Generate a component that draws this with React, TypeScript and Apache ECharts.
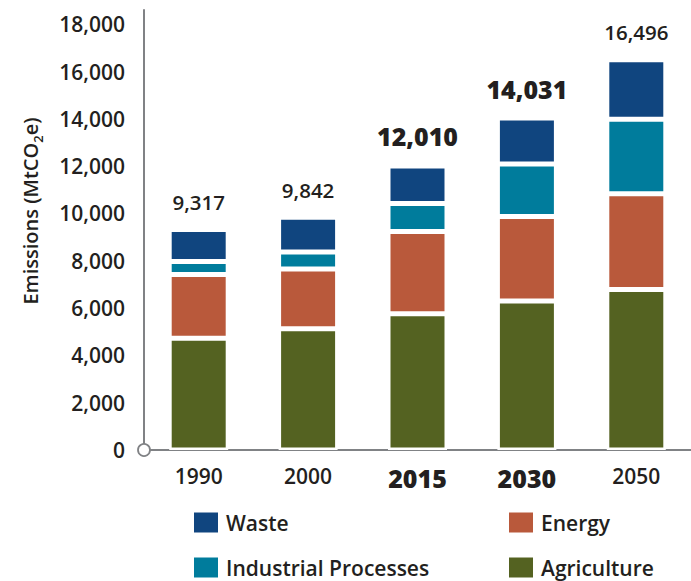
import React, { useEffect, useRef } from "react";
import * as echarts from "echarts";

const categories = ["1990", "2000", "2015", "2030", "2050"];
const highlighted = ["2015", "2030"];
const agriculture = [4720, 5130, 5760, 6300, 6790];
const energy = [2700, 2520, 3480, 3570, 4040];
const industrial = [550, 720, 1180, 2220, 3150];
const waste = [1347, 1472, 1590, 1941, 2516];
const totals = [9317, 9842, 12010, 14031, 16496];

const seriesNames = ["Agriculture", "Energy", "Industrial Processes", "Waste"];
const seriesColors = ["#546221", "#b9593b", "#007c9c", "#10457f"];

const FONT = "'Open Sans', 'Noto Sans', sans-serif";
const TEXT = "#231f20";
const AXIS = "#808285";

const fmt = (v: number) => v.toLocaleString("en-US");

export default function App() {
  const ref = useRef<HTMLDivElement>(null);
  useEffect(() => {
    if (!ref.current) return;
    const chart = echarts.init(ref.current, null, { renderer: "svg" });
    const values = [agriculture, energy, industrial, waste];
    const gridLeft = 144;
    const gridTop = 10;
    const gridBottomY = 450;

    const legendPos = [
      { name: "Waste", left: 194, top: 512 },
      { name: "Energy", left: 509, top: 512 },
      { name: "Industrial Processes", left: 194, top: 557 },
      { name: "Agriculture", left: 509, top: 557 },
    ];

    const option: any = {
      animation: false,
      textStyle: { fontFamily: FONT },
      grid: { left: gridLeft, top: gridTop, width: 556, height: gridBottomY - gridTop },
      xAxis: {
        type: "category",
        data: categories,
        axisLine: { show: true, lineStyle: { color: AXIS, width: 2 } },
        axisTick: { show: false },
        axisLabel: {
          margin: 15,
          formatter: (v: string) => (highlighted.includes(v) ? `{b|${v}}` : `{n|${v}}`),
          rich: {
            n: { fontSize: 21, fontWeight: 600, color: TEXT, fontFamily: FONT },
            b: { fontSize: 25, fontWeight: 800, color: TEXT, fontFamily: FONT },
          },
        },
      },
      yAxis: {
        type: "value",
        min: 0,
        max: 18600,
        interval: 2000,
        axisLine: { show: true, lineStyle: { color: AXIS, width: 2 } },
        axisTick: { show: false },
        splitLine: { show: false },
        axisLabel: {
          showMaxLabel: false,
          margin: 19,
          fontSize: 21,
          fontWeight: 600,
          color: TEXT,
          fontFamily: FONT,
          formatter: (v: number) => fmt(v),
        },
      },
      legend: legendPos.map((l) => ({
        data: [l.name],
        left: l.left,
        top: l.top,
        padding: 0,
        itemWidth: 24,
        itemHeight: 20,
        icon: "rect",
        selectedMode: false,
        itemStyle: { borderWidth: 0 },
        textStyle: {
          fontSize: 21,
          fontWeight: 600,
          color: TEXT,
          fontFamily: FONT,
          padding: [0, 0, 0, 3],
        },
      })),
      series: seriesNames.map((name, si) => ({
        name,
        type: "bar",
        stack: "total",
        barWidth: 59,
        data: values[si],
        itemStyle: { color: seriesColors[si], borderColor: "#ffffff", borderWidth: 2.5 },
        label:
          si === seriesNames.length - 1
            ? {
                show: true,
                position: "top",
                distance: 17,
                formatter: (p: any) => {
                  const t = fmt(totals[p.dataIndex]);
                  return highlighted.includes(categories[p.dataIndex]) ? `{b|${t}}` : `{n|${t}}`;
                },
                rich: {
                  n: { fontSize: 20.5, fontWeight: 600, color: TEXT, fontFamily: FONT },
                  b: { fontSize: 25, fontWeight: 800, color: TEXT, fontFamily: FONT },
                },
              }
            : { show: false },
      })),
      graphic: [
        {
          type: "circle",
          shape: { cx: gridLeft, cy: gridBottomY, r: 6 },
          style: { fill: "#ffffff", stroke: AXIS, lineWidth: 1.8 },
          z: 100,
        },
        {
          type: "text",
          x: 30,
          y: 211,
          rotation: Math.PI / 2,
          style: {
            text: "{a|Emissions (MtCO}{s|2}{a|e)}",
            align: "center",
            verticalAlign: "middle",
            rich: {
              a: { fontSize: 20, fontWeight: 600, fill: TEXT, fontFamily: FONT, lineHeight: 24 },
              s: { fontSize: 13, fontWeight: 600, fill: TEXT, fontFamily: FONT, lineHeight: 14, verticalAlign: "bottom", padding: [0, 0, -2, 0] },
            },
          },
          z: 100,
        },
      ],
    };
    chart.setOption(option);
    return () => chart.dispose();
  }, []);
  return (
    <div
      ref={ref}
      style={{ position: "absolute", left: 0, top: 0, width: 691, height: 581, background: "#ffffff" }}
    />
  );
}
